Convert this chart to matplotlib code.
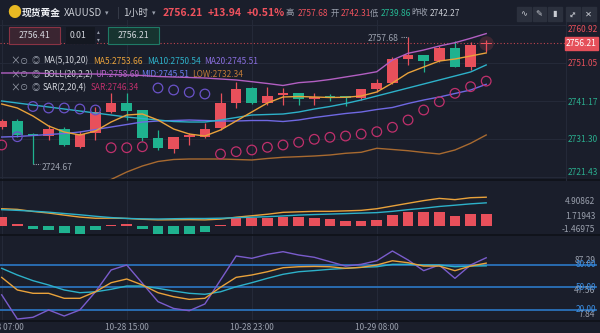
import numpy as np
import matplotlib
matplotlib.use('Agg')
import matplotlib.pyplot as plt
from matplotlib.patches import Rectangle
from matplotlib.transforms import blended_transform_factory

plt.rcParams['font.family'] = ['Noto Sans CJK SC', 'DejaVu Sans']

# ---- data (1h candles, 10-28 07:00 -> 10-29 ...) ----
opens  = [2734.41, 2735.97, 2732.46, 2732.15, 2733.89, 2729.22, 2732.85, 2738.31, 2740.65, 2738.83,
          2731.55, 2728.70, 2731.94, 2731.81, 2734.15, 2740.65, 2744.55, 2740.65, 2742.73, 2743.25,
          2741.69, 2742.21, 2742.31, 2741.95, 2744.29, 2745.85, 2752.08, 2753.12, 2751.64, 2755.02,
          2750.08, 2755.98]
highs  = [2736.49, 2736.49, 2732.85, 2734.93, 2734.41, 2733.37, 2739.69, 2743.25, 2743.25, 2738.83,
          2733.63, 2731.81, 2732.85, 2735.45, 2743.25, 2746.11, 2744.81, 2744.81, 2744.55, 2743.25,
          2743.25, 2743.00, 2742.31, 2744.29, 2746.89, 2752.60, 2757.68, 2753.12, 2755.46, 2756.84,
          2756.50, 2757.02]
lows   = [2733.89, 2731.81, 2724.67, 2731.04, 2729.48, 2728.96, 2731.04, 2738.05, 2736.23, 2730.78,
          2728.44, 2727.66, 2729.74, 2731.55, 2733.63, 2739.35, 2740.39, 2740.13, 2740.13, 2740.13,
          2740.13, 2741.25, 2739.86, 2741.43, 2743.51, 2745.59, 2750.52, 2748.78, 2751.30, 2750.01,
          2749.23, 2753.98]
closes = [2735.97, 2732.33, 2732.20, 2733.89, 2729.74, 2732.59, 2738.39, 2740.65, 2738.57, 2731.55,
          2728.96, 2731.81, 2732.20, 2733.89, 2740.65, 2744.29, 2740.65, 2742.47, 2743.12, 2741.69,
          2742.21, 2742.08, 2742.00, 2744.29, 2745.85, 2752.08, 2753.12, 2751.64, 2754.94, 2750.01,
          2755.72, 2756.21]

ma5  = [2740.39, 2739.35, 2737.27, 2734.67, 2733.11, 2732.33, 2733.37, 2735.71, 2737.53, 2737.79,
        2736.23, 2733.89, 2732.59, 2732.07, 2733.63, 2735.97, 2738.31, 2740.65, 2742.21, 2742.34,
        2742.21, 2742.08, 2742.13, 2742.47, 2743.51, 2745.85, 2748.45, 2750.01, 2751.56, 2752.08,
        2752.86, 2753.66]
ma10 = [2741.17, 2740.65, 2740.13, 2739.61, 2739.09, 2738.57, 2738.05, 2737.53, 2737.01, 2736.62,
        2736.23, 2735.84, 2735.71, 2735.71, 2736.23, 2736.88, 2737.53, 2737.66, 2737.79, 2738.31,
        2739.09, 2739.74, 2740.52, 2741.43, 2742.47, 2743.51, 2744.55, 2745.59, 2746.63, 2747.67,
        2748.71, 2750.54]
ma20 = [2731.81, 2731.94, 2732.20, 2732.46, 2732.72, 2733.11, 2733.76, 2734.41, 2735.06, 2735.71,
        2735.97, 2736.10, 2736.23, 2736.10, 2735.97, 2735.97, 2736.10, 2736.10, 2735.84, 2736.23,
        2736.88, 2737.40, 2737.92, 2738.31, 2738.96, 2739.48, 2740.52, 2741.43, 2742.21, 2743.12,
        2744.03, 2745.51]
boll_up = [2748.45, 2748.45, 2748.45, 2748.32, 2748.19, 2748.19, 2748.19, 2748.06, 2747.93, 2747.80,
           2747.54, 2747.41, 2747.28, 2747.15, 2746.89, 2746.63, 2746.19, 2745.72, 2745.20, 2745.93,
           2746.24, 2746.76, 2747.41, 2748.06, 2748.78, 2751.82, 2753.57, 2754.42, 2755.46, 2756.32,
           2757.46, 2758.69]
boll_low = [2715.18, 2715.44, 2715.96, 2716.61, 2717.26, 2718.04, 2719.34, 2720.77, 2722.72, 2724.28,
            2725.45, 2725.97, 2726.10, 2726.10, 2726.10, 2725.97, 2725.84, 2726.23, 2726.54, 2726.70,
            2726.88, 2727.14, 2727.58, 2727.84, 2728.88, 2728.57, 2728.25, 2727.79, 2727.40, 2728.44,
            2730.18, 2732.34]
sar = [2729.74, 2731.89, 2739.74, 2739.35, 2739.35, 2739.09, 2738.83, 2729.03, 2729.03, 2729.29,
       2744.55, 2744.03, 2743.43, 2742.99, 2727.40, 2728.00, 2728.44, 2729.14, 2729.74, 2730.44,
       2731.22, 2731.74, 2732.07, 2732.59, 2733.19, 2734.34, 2736.23, 2738.83, 2740.99, 2743.17,
       2744.89, 2746.34]

macd_bar = [1.55, 0.29, -0.57, -0.74, -1.32, -1.50, -0.74, 0.17, 0.26, -0.57,
            -1.50, -1.50, -1.50, -1.15, 0.12, 1.38, 1.38, 1.38, 1.44, 1.55,
            1.38, 1.08, 0.86, 0.86, 0.98, 1.84, 2.29, 2.29, 2.41, 1.72,
            1.94, 1.94251]
dif = [2.92, 2.81, 2.45, 2.18, 1.82, 1.48, 1.28, 1.30, 1.25, 1.10,
       1.00, 1.02, 1.04, 1.00, 1.13, 1.46, 1.71, 1.97, 2.30, 2.39,
       2.47, 2.47, 2.55, 2.64, 2.92, 3.39, 3.86, 4.32, 4.70, 4.49,
       4.82, 4.90862]
dea = [2.76, 2.64, 2.50, 2.33, 2.10, 1.88, 1.62, 1.40, 1.25, 1.18,
       1.15, 1.20, 1.24, 1.24, 1.29, 1.38, 1.46, 1.55, 1.68, 1.83,
       1.92, 2.00, 2.08, 2.17, 2.25, 2.47, 2.76, 3.01, 3.31, 3.53,
       3.76, 3.93736]

k_line = [63.0, 46.4, 42.0, 42.0, 35.4, 35.4, 44.0, 56.0, 60.9, 53.0,
          42.8, 37.5, 34.0, 35.4, 50.0, 63.1, 66.2, 70.5, 75.8, 77.1,
          77.5, 77.1, 75.0, 76.3, 79.4, 85.0, 82.4, 78.0, 78.0, 71.9,
          78.0, 81.85]
d_line = [75.0, 66.2, 58.7, 53.0, 46.4, 42.8, 44.0, 47.3, 51.6, 51.6,
          48.6, 45.0, 42.0, 40.7, 44.0, 50.7, 56.0, 61.8, 67.1, 70.5,
          72.0, 73.7, 75.0, 76.3, 77.1, 80.3, 80.3, 79.4, 79.4, 77.1,
          78.0, 78.30]
j_line = [40.0, 8.0, 10.3, 20.0, 12.0, 20.0, 44.0, 72.8, 79.4, 55.2,
          31.0, 22.0, 19.0, 27.9, 59.6, 91.3, 88.2, 93.5, 97.0, 92.6,
          89.6, 83.8, 78.0, 80.3, 85.0, 97.9, 86.0, 71.9, 79.4, 61.8,
          79.4, 88.95]

tick_idx = [0, 8, 16, 24]
tick_labels = ['10-28 07:00', '10-28 15:00', '10-28 23:00', '10-29 08:00']
price_ticks = [2721.43, 2731.30, 2741.17, 2751.05, 2760.92]
macd_ticks = [-1.46975, 1.71943, 4.90862]
kdj_ticks = [7.84, 47.56, 87.29]
kdj_levels = [80, 50, 20]
last_price = 2756.21
prev_close = 2742.27

# ---- colours ----
BG = '#1a1e2b'
GRID = '#242938'
SEP = '#0e1118'
RED = '#e8505b'
GREEN = '#1fb28f'
ORANGE = '#e9a23b'
CYAN = '#2db1c9'
PURPLE = '#6f68e2'
PINK = '#b25fc2'
BROWN = '#a86a30'
MAG = '#c0306c'
VIO = '#6a52c8'
GRAY = '#9aa0ad'
LIGHT = '#d3d6dd'
LEVEL = '#2a72bb'

W, H = 600, 333
fig = plt.figure(figsize=(W / 100, H / 100), dpi=100, facecolor=BG)


def fax(x0, y0, x1, y1):
    a = fig.add_axes([x0 / W, 1 - y1 / H, (x1 - x0) / W, (y1 - y0) / H])
    a.set_facecolor(BG)
    for s in a.spines.values():
        s.set_visible(False)
    return a


def fp(x, y):
    return x / W, 1 - y / H


ax = fax(0, 20, 567, 180)
axm = fax(0, 180, 567, 234.5)
axk = fax(0, 234.5, 567, 320.7)

x = np.arange(len(closes))
o, h, l, c = map(np.array, (opens, highs, lows, closes))
xlim = (-0.109, 36.17)
for a in (ax, axm, axk):
    a.set_xlim(*xlim)
    a.set_xticks([])
    for i in tick_idx:
        a.axvline(i, color=GRID, lw=0.8, zorder=0)

# ---- main panel ----
ax.set_ylim(2720.64, 2762.22)
ax.yaxis.tick_right()
ax.set_yticks(price_ticks, [f'{v:.2f}' for v in price_ticks])
ax.tick_params(axis='y', length=0, pad=0.8, labelsize=6)
labs = ax.get_yticklabels()
for v, lb in zip(price_ticks, labs):
    lb.set_color(RED if v > prev_close else '#2aae8e')
labs[0].set_va('bottom')
labs[-1].set_va('top')
for v in price_ticks:
    ax.axhline(v, color=GRID, lw=0.8, zorder=0)

up = c >= o
cols = np.where(up, RED, GREEN)
ax.vlines(x, l, h, color=cols, lw=0.9, zorder=2)
body = np.maximum(np.abs(c - o), 0.4)
ax.bar(x, body, bottom=(o + c) / 2 - body / 2, width=0.68, color=cols, zorder=2)

ax.plot(x, boll_up, color=PINK, lw=1, zorder=3)
ax.plot(x, boll_low, color=BROWN, lw=1, zorder=3)
ax.plot(x, ma20, color=PURPLE, lw=1, zorder=3)
ax.plot(x, ma10, color=CYAN, lw=1, zorder=3)
ax.plot(x, ma5, color=ORANGE, lw=1, zorder=3)

sar_a = np.array(sar)
sar_col = np.where(sar_a < l, MAG, VIO)
ax.scatter(x, sar_a, s=48, facecolors='none', edgecolors=sar_col, linewidths=0.9, zorder=4)
# soft glow on the live candle
ax.scatter([x[-1]], [c[-1]], s=110, color=RED, alpha=0.18, linewidths=0, zorder=1.8)

ax.axhline(last_price, color='#c0444f', lw=0.8, ls=(0, (1, 2)), zorder=1)

imax = int(np.argmax(h))
imin = int(np.argmin(l))
ax.plot([imax - 0.45, imax], [h[imax], h[imax]], color=GRAY, lw=0.8, ls=(0, (1, 1)), zorder=3)
ax.annotate(f'{h[imax]:.2f}', (imax, h[imax]), xytext=(-7, -1), textcoords='offset points',
            ha='right', va='center', color=GRAY, fontsize=6.2, zorder=3)
ax.plot([imin, imin + 0.45], [l[imin], l[imin]], color=GRAY, lw=0.8, ls=(0, (1, 1)), zorder=3)
ax.annotate(f'{l[imin]:.2f}', (imin, l[imin]), xytext=(6, -2), textcoords='offset points',
            ha='left', va='center', color=GRAY, fontsize=6.2, zorder=3)

# ---- MACD panel ----
axm.set_ylim(-1.521, 7.874)
axm.bar(x, macd_bar, width=0.68, color=np.where(np.array(macd_bar) >= 0, RED, GREEN), zorder=2)
axm.plot(x, dif, color=ORANGE, lw=1, zorder=3)
axm.plot(x, dea, color=CYAN, lw=1, zorder=3)
axm.yaxis.tick_right()
axm.set_yticks(macd_ticks, [f'{v:.5f}' for v in macd_ticks])
axm.tick_params(axis='y', length=0, pad=20.5, labelsize=6, labelcolor=GRAY)
ml = axm.get_yticklabels()
for lb in ml:
    lb.set_ha('right')
ml[0].set_va('bottom')
ml[-1].set_va('top')

# ---- KDJ panel ----
axk.set_ylim(5.8, 119.7)
for v in kdj_levels:
    axk.axhline(v, xmin=0, xmax=596 / 567, color=LEVEL, lw=1.3, clip_on=False, zorder=1)
axk.plot(x, j_line, color='#7a5ccc', lw=1, zorder=3)
axk.plot(x, d_line, color=CYAN, lw=1, zorder=3)
axk.plot(x, k_line, color=ORANGE, lw=1, zorder=3)
axk.yaxis.tick_right()
axk.set_yticks(kdj_ticks, [f'{v:.2f}' for v in kdj_ticks])
axk.tick_params(axis='y', length=0, pad=20.5, labelsize=6, labelcolor=GRAY)
kl = axk.get_yticklabels()
for lb in kl:
    lb.set_ha('right')
kl[0].set_va('bottom')
tb = blended_transform_factory(axk.transAxes, axk.transData)
for v in kdj_levels:
    axk.text(596 / 567, v, f'{v:.2f}', transform=tb, ha='right', va='center',
             color='#3b8de0', fontsize=6, clip_on=False)
axk.set_xticks(tick_idx, tick_labels)
axk.tick_params(axis='x', length=0, pad=2, labelsize=6, labelcolor=GRAY)

# ---- panel separators ----
for yy in (180, 234.5, 320.7):
    fig.add_artist(plt.Line2D([0, 1], [1 - yy / H, 1 - yy / H], color=SEP, lw=1.2))
fig.add_artist(plt.Line2D([566 / W, 566 / W], [1 - 20 / H, 1 - 180 / H], color=GRID, lw=0.8))

# current price tag
fig.add_artist(Rectangle(fp(565, 49.5), 33 / W, 12.5 / H, transform=fig.transFigure,
                         color='#e5505a', zorder=5))
fig.text(*fp(581.5, 43.3), f'{last_price:.2f}', ha='center', va='center', color='white',
         fontsize=6.2, zorder=6)

# ---- indicator legends (drawn under the lines) ----
def ltxt(px, py, s, col, size=6):
    ax.text(px / W, 1 - py / H, s, transform=fig.transFigure, color=col, fontsize=size,
            va='center', ha='left', zorder=1.5)


def icons(py, third):
    ltxt(10, py, '×', GRAY, 7)
    ltxt(20, py, '⊙', GRAY, 6)
    ltxt(32, py, third, GRAY, 6)


icons(61, '◎')
ltxt(43, 61, 'MA(5,10,20)', LIGHT)
ltxt(93, 61, 'MA5:2753.66', ORANGE)
ltxt(147, 61, 'MA10:2750.54', CYAN)
ltxt(204, 61, 'MA20:2745.51', '#8a6fe0')
icons(74.5, '◎')
ltxt(43, 74.5, 'BOLL(20,2,2)', LIGHT)
ltxt(95, 74.5, 'UP:2758.69', PINK)
ltxt(141, 74.5, 'MID:2745.51', '#6a7ff0')
ltxt(192, 74.5, 'LOW:2732.34', '#c07a38')
icons(87.5, '◎')
ltxt(43, 87.5, 'SAR(2,20,4)', LIGHT)
ltxt(91, 87.5, 'SAR:2746.34', MAG)

icons(188, '⊞')
ltxt(44, 188, 'MACD(12,26,9)', LIGHT)
ltxt(105, 188, 'MACD:1.94251', '#8c74e0')
ltxt(163, 188, 'DIF:4.90862', ORANGE)
ltxt(212, 188, 'DEA:3.93736', CYAN)
icons(244, '⊞')
ltxt(43, 244, 'KDJ(9,3,3)', LIGHT)
ltxt(85, 244, 'K:81.85', ORANGE)
ltxt(117, 244, 'D:78.30', CYAN)
ltxt(147, 244, 'J:88.95', '#7a5ccc')

# ---- header ----
def htxt(px, py, s, col, size=7, weight='normal', ha='left', rot=0):
    fig.text(px / W, 1 - py / H, s, color=col, fontsize=size, fontweight=weight,
             va='center', ha=ha, rotation=rot)


htxt(14, 13, '●', '#e8b923', 10, ha='center')
htxt(22, 13, '现货黄金', '#eceef2', 7, 'bold')
htxt(64, 13, 'XAUUSD', '#c9ccd3', 7)
htxt(105, 13, '▾', GRAY, 5)
htxt(117, 13, '|', '#454a57', 7)
htxt(123, 13, '1小时', '#c9ccd3', 7)
htxt(152, 13, '▾', GRAY, 5)
htxt(163, 13, '2756.21', '#f0525e', 7.5, 'bold')
htxt(208, 13, '+13.94', '#f0525e', 7.5, 'bold')
htxt(247, 13, '+0.51%', '#f0525e', 7.5, 'bold')
htxt(286, 13, '高', GRAY, 6)
htxt(298, 13, '2757.68', '#f0525e', 6)
htxt(331, 13, '开', GRAY, 6)
htxt(341, 13, '2742.31', '#f0525e', 6)
htxt(370, 13, '低', GRAY, 6)
htxt(381, 13, '2739.86', '#26b994', 6)
htxt(411, 13, '昨收', GRAY, 6)
htxt(430, 13, '2742.27', '#c9ccd3', 6)

for bx, glyph, rot in zip([517, 532.5, 548, 566, 582], ['∿', '✎', '▮', '↔', '✕'], [0, 0, 0, 45, 0]):
    fig.add_artist(Rectangle(fp(bx, 20.5), 13.5 / W, 13.5 / H, transform=fig.transFigure,
                             color='#2b303d', zorder=5))
    fig.text(*fp(bx + 6.75, 13.8), glyph, ha='center', va='center', color='#c9ccd3',
             fontsize=6, zorder=6, rotation=rot, family=['DejaVu Sans'])

# order boxes
fig.add_artist(Rectangle(fp(9, 44), 51 / W, 17 / H, transform=fig.transFigure,
                         facecolor='#3a2531', edgecolor='#8a3344', lw=0.8, zorder=5))
fig.text(*fp(34.5, 35.5), '2756.41', ha='center', va='center', color=LIGHT, fontsize=6.3, zorder=6)
fig.add_artist(Rectangle(fp(66, 44), 29 / W, 17 / H, transform=fig.transFigure,
                         facecolor='#141821', edgecolor='none', zorder=5))
fig.text(*fp(78.5, 35.5), '0.01', ha='center', va='center', color=LIGHT, fontsize=6.3, zorder=6)
fig.text(*fp(98, 32), '▴', ha='center', va='center', color=GRAY, fontsize=4, zorder=6)
fig.text(*fp(98, 39.5), '▾', ha='center', va='center', color=GRAY, fontsize=4, zorder=6)
fig.add_artist(Rectangle(fp(108, 44), 51 / W, 17 / H, transform=fig.transFigure,
                         facecolor='#173430', edgecolor='#1f7a66', lw=0.8, zorder=5))
fig.text(*fp(133.5, 35.5), '2756.21', ha='center', va='center', color=LIGHT, fontsize=6.3, zorder=6)

fig.savefig('out.png', dpi=100, facecolor=BG)
